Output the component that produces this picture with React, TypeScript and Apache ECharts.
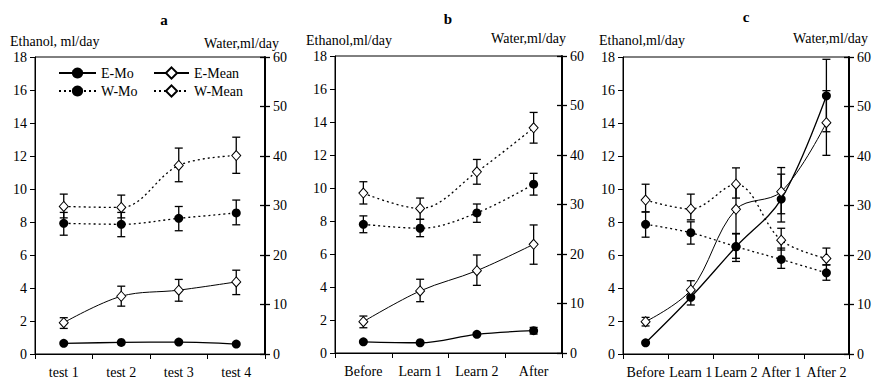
import React, { useEffect, useRef } from "react";
import * as echarts from "echarts";

// ---------- Panel a ----------
const catsA = ["test 1", "test 2", "test 3", "test 4"];
const eMoA = [0.65, 0.7, 0.72, 0.6];
const eMeanA = [1.9, 3.5, 3.87, 4.37];
const eMeanLoA = [1.55, 2.9, 3.2, 3.6];
const eMeanHiA = [2.2, 4.11, 4.52, 5.08];
const wMoA = [26.4, 26.2, 27.4, 28.5];
const wMoLoA = [24.0, 23.7, 24.9, 26.1];
const wMoHiA = [28.6, 28.6, 29.8, 31.1];
const wMeanA = [29.8, 29.6, 38.1, 40.1];
const wMeanLoA = [27.5, 27.5, 34.8, 36.5];
const wMeanHiA = [32.3, 32.1, 41.6, 43.8];

// ---------- Panel b ----------
const catsB = ["Before", "Learn 1", "Learn 2", "After"];
const eMoB = [0.68, 0.62, 1.13, 1.35];
const eMoLoB = [0.68, 0.62, 1.13, 1.15];
const eMoHiB = [0.68, 0.62, 1.13, 1.55];
const eMeanB = [1.9, 3.76, 4.99, 6.59];
const eMeanLoB = [1.53, 3.11, 4.1, 5.38];
const eMeanHiB = [2.24, 4.47, 5.94, 7.76];
const wMoB = [26.0, 25.2, 28.3, 34.1];
const wMoLoB = [24.3, 23.5, 26.4, 31.9];
const wMoHiB = [27.7, 27.0, 30.1, 36.3];
const wMeanB = [32.3, 29.2, 36.6, 45.5];
const wMeanLoB = [30.1, 27.0, 34.1, 42.4];
const wMeanHiB = [34.6, 31.3, 39.1, 48.6];

// ---------- Panel c ----------
const catsC = ["Before", "Learn 1", "Learn 2", "After 1", "After 2"];
const eMoC = [0.68, 3.44, 6.5, 9.39, 15.65];
const eMoLoC = [0.68, 2.97, 5.8, 8.0, 13.47];
const eMoHiC = [0.68, 3.84, 7.3, 10.9, 17.86];
const eMeanC = [1.96, 3.88, 8.77, 9.84, 14.02];
const eMeanLoC = [1.7, 3.35, 7.3, 8.5, 12.04];
const eMeanHiC = [2.22, 4.44, 10.3, 11.3, 15.96];
const wMoC = [26.2, 24.5, 21.7, 19.1, 16.4];
const wMoLoC = [23.6, 22.2, 18.7, 17.3, 14.9];
const wMoHiC = [28.7, 26.7, 24.3, 21.4, 18.0];
const wMeanC = [31.1, 29.3, 34.3, 23.0, 19.3];
const wMeanLoC = [28.7, 27.1, 31.5, 21.0, 18.0];
const wMeanHiC = [34.3, 32.3, 37.6, 25.4, 21.4];

// ---------- Axis ticks ----------
const ethanolTicks = { min: 0, max: 18, interval: 2 };
const waterTicks = { min: 0, max: 60, interval: 10 };

const FONT = "Liberation Serif";

const zip3 = (lo: number[], hi: number[]) => lo.map((l, i) => [i, l, hi[i]]);

function errRender(_params: any, api: any) {
  const x = api.value(0);
  const lo = api.coord([x, api.value(1)]);
  const hi = api.coord([x, api.value(2)]);
  if (Math.abs(lo[1] - hi[1]) < 1) return { type: "group", children: [] };
  const w = 4;
  const st = { stroke: "#000", lineWidth: 1.3 };
  return {
    type: "group",
    children: [
      { type: "line", shape: { x1: lo[0], y1: lo[1], x2: hi[0], y2: hi[1] }, style: st },
      { type: "line", shape: { x1: lo[0] - w, y1: lo[1], x2: lo[0] + w, y2: lo[1] }, style: st },
      { type: "line", shape: { x1: hi[0] - w, y1: hi[1], x2: hi[0] + w, y2: hi[1] }, style: st },
    ],
  };
}

const styles: Record<string, any> = {
  "E-Mo": {
    symbol: "circle",
    symbolSize: 9,
    lineStyle: { color: "#000", width: 1.3, type: "solid" },
    itemStyle: { color: "#000" },
  },
  "E-Mean": {
    symbol: "diamond",
    symbolSize: [9, 10],
    lineStyle: { color: "#000", width: 1, type: "solid" },
    itemStyle: { color: "#fff", borderColor: "#000", borderWidth: 1 },
  },
  "W-Mo": {
    symbol: "circle",
    symbolSize: 9,
    lineStyle: { color: "#000", width: 1.3, type: [2, 3] },
    itemStyle: { color: "#000" },
  },
  "W-Mean": {
    symbol: "diamond",
    symbolSize: [9, 10],
    lineStyle: { color: "#000", width: 1.3, type: [2, 3] },
    itemStyle: { color: "#fff", borderColor: "#000", borderWidth: 1 },
  },
};

function lineSeries(name: string, data: number[], xi: number, yi: number) {
  return {
    type: "line",
    name,
    data,
    xAxisIndex: xi,
    yAxisIndex: yi,
    smooth: 0.35,
    z: 3,
    showSymbol: true,
    ...styles[name],
  };
}

function errSeries(lo: number[], hi: number[], xi: number, yi: number) {
  return {
    type: "custom",
    renderItem: errRender,
    data: zip3(lo, hi),
    xAxisIndex: xi,
    yAxisIndex: yi,
    encode: { x: 0, y: [1, 2] },
    z: 1,
    silent: true,
  };
}

function panelSeries(
  p: number,
  eMo: number[], eMoLo: number[] | null, eMoHi: number[] | null,
  eMean: number[], eMeanLo: number[], eMeanHi: number[],
  wMo: number[], wMoLo: number[], wMoHi: number[],
  wMean: number[], wMeanLo: number[], wMeanHi: number[]
) {
  const yl = p * 3;
  const yr = p * 3 + 1;
  const s: any[] = [];
  if (eMoLo && eMoHi) s.push(errSeries(eMoLo, eMoHi, p, yl));
  s.push(errSeries(eMeanLo, eMeanHi, p, yl));
  s.push(errSeries(wMoLo, wMoHi, p, yr));
  s.push(errSeries(wMeanLo, wMeanHi, p, yr));
  s.push(lineSeries("E-Mo", eMo, p, yl));
  s.push(lineSeries("E-Mean", eMean, p, yl));
  s.push(lineSeries("W-Mo", wMo, p, yr));
  s.push(lineSeries("W-Mean", wMean, p, yr));
  return s;
}

const labelStyle = { color: "#000", fontFamily: FONT, fontSize: 14 };

function xAxisFor(p: number, cats: string[]) {
  return {
    type: "category",
    gridIndex: p,
    data: cats,
    boundaryGap: true,
    axisLine: { lineStyle: { color: "#000", width: 1 } },
    axisTick: { show: true, inside: false, length: 5, lineStyle: { color: "#000" } },
    axisLabel: { ...labelStyle, margin: 11, interval: 0 },
    splitLine: { show: false },
  };
}

function yAxesFor(p: number) {
  return [
    {
      type: "value",
      gridIndex: p,
      position: "left",
      ...ethanolTicks,
      axisLine: { show: true, lineStyle: { color: "#000", width: 1 } },
      axisTick: { show: true, inside: false, length: 5, lineStyle: { color: "#000" } },
      axisLabel: { ...labelStyle, margin: 8 },
      splitLine: { show: false },
    },
    {
      type: "value",
      gridIndex: p,
      position: "right",
      ...waterTicks,
      axisLine: { show: true, lineStyle: { color: "#000", width: 2 } },
      axisTick: { show: true, inside: false, length: 5, lineStyle: { color: "#000", width: 1.3 } },
      axisLabel: { ...labelStyle, margin: 8 },
      splitLine: { show: false },
    },
    {
      type: "value",
      gridIndex: p,
      position: "right",
      ...waterTicks,
      axisLine: { show: false },
      axisTick: { show: true, inside: true, length: 5, lineStyle: { color: "#000", width: 1.3 } },
      axisLabel: { show: false },
      splitLine: { show: false },
    },
  ];
}

const gridBase = { show: true, borderColor: "#000", borderWidth: 1, backgroundColor: "transparent" };

function txt(x: number, y: number, text: string, align: string, bold = false) {
  return {
    type: "text",
    x,
    y,
    style: {
      text,
      fill: "#000",
      fontFamily: FONT,
      fontSize: bold ? 15 : 14,
      fontWeight: bold ? "bold" : "normal",
      align,
      verticalAlign: "middle",
    },
  };
}

export default function App() {
  const ref = useRef<HTMLDivElement>(null);
  useEffect(() => {
    if (!ref.current) return;
    const chart = echarts.init(ref.current, null, { renderer: "svg" });
    const option: any = {
      animation: false,
      backgroundColor: "#fff",
      textStyle: { fontFamily: FONT },
      grid: [
        { ...gridBase, left: 35, top: 57, width: 230, height: 297 },
        { ...gridBase, left: 335, top: 56, width: 227, height: 297 },
        { ...gridBase, left: 623, top: 57, width: 226, height: 297 },
      ],
      xAxis: [xAxisFor(0, catsA), xAxisFor(1, catsB), xAxisFor(2, catsC)],
      yAxis: [...yAxesFor(0), ...yAxesFor(1), ...yAxesFor(2)],
      legend: [
        {
          orient: "vertical",
          left: 58,
          top: 66,
          padding: 0,
          itemGap: 4,
          itemWidth: 37,
          itemHeight: 14,
          textStyle: labelStyle,
          data: ["E-Mo", "W-Mo"],
        },
        {
          orient: "vertical",
          left: 153,
          top: 66,
          padding: 0,
          itemGap: 4,
          itemWidth: 35,
          itemHeight: 14,
          textStyle: labelStyle,
          data: ["E-Mean", "W-Mean"],
        },
      ],
      graphic: [
        txt(164, 20, "a", "center", true),
        txt(10, 41, "Ethanol, ml/day", "left"),
        txt(279, 43, "Water,ml/day", "right"),
        txt(448, 19, "b", "center", true),
        txt(306, 40, "Ethanol,ml/day", "left"),
        txt(566, 38, "Water,ml/day", "right"),
        txt(746, 17, "c", "center", true),
        txt(599, 40, "Ethanol,ml/day", "left"),
        txt(868, 38, "Water,ml/day", "right"),
      ],
      series: [
        ...panelSeries(0, eMoA, null, null, eMeanA, eMeanLoA, eMeanHiA, wMoA, wMoLoA, wMoHiA, wMeanA, wMeanLoA, wMeanHiA),
        ...panelSeries(1, eMoB, eMoLoB, eMoHiB, eMeanB, eMeanLoB, eMeanHiB, wMoB, wMoLoB, wMoHiB, wMeanB, wMeanLoB, wMeanHiB),
        ...panelSeries(2, eMoC, eMoLoC, eMoHiC, eMeanC, eMeanLoC, eMeanHiC, wMoC, wMoLoC, wMoHiC, wMeanC, wMeanLoC, wMeanHiC),
      ],
    };
    chart.setOption(option);
    return () => chart.dispose();
  }, []);
  return (
    <div
      ref={ref}
      style={{ position: "fixed", left: 0, top: 0, width: 875, height: 381, background: "#fff" }}
    />
  );
}
